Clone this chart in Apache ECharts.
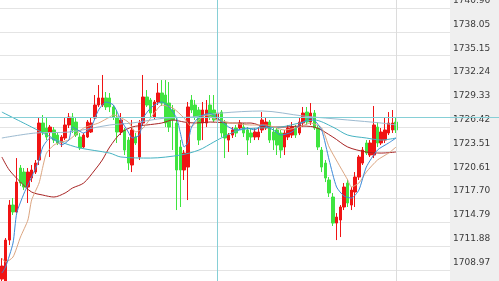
<!DOCTYPE html>
<html><head><meta charset="utf-8">
<script src="https://cdn.jsdelivr.net/npm/echarts@6/dist/echarts.min.js"></script>
<style>html,body{margin:0;padding:0;background:#fff}#c{width:499px;height:281px}</style>
</head><body><div id="c"></div>
<script>
// ---- data ----
const slotCount = 121;
const categories = Array.from({length: slotCount}, (_, i) => 'T' + i);
// [open, close, low, high]
const candles = [
[1707.87,1709.46,1707.14,1710.43],[1707.14,1712.63,1706.52,1712.88],[1712.63,1716.91,1712.02,1717.52],[1716.91,1716.06,1715.69,1717.77],
[1716.06,1719.72,1715.93,1722.65],[1721.43,1719.60,1719.23,1721.80],[1720.94,1719.11,1718.74,1721.43],[1719.11,1720.94,1717.16,1721.43],
[1720.21,1721.19,1719.72,1721.80],[1720.94,1722.04,1720.70,1722.41],[1722.41,1726.93,1721.80,1727.54],[1726.93,1725.83,1725.46,1727.91],
[1726.32,1725.22,1724.85,1727.66],[1725.83,1726.44,1722.78,1726.69],[1726.08,1724.85,1724.49,1726.44],[1725.46,1724.49,1724.24,1725.83],
[1724.49,1725.22,1724.00,1725.46],[1725.10,1726.69,1724.85,1727.54],[1726.69,1727.66,1726.32,1728.15],[1727.66,1726.08,1725.71,1728.15],
[1727.05,1725.46,1725.22,1727.54],[1725.22,1723.88,1723.63,1725.71],[1724.00,1725.46,1723.88,1725.71],[1725.22,1727.05,1725.10,1727.30],
[1725.83,1726.93,1725.71,1727.66],[1727.54,1729.13,1727.30,1730.35],[1729.13,1729.99,1728.89,1731.57],[1729.13,1729.99,1728.89,1732.80],
[1729.99,1728.89,1728.52,1730.72],[1729.99,1728.89,1728.27,1730.60],[1728.89,1727.66,1727.30,1729.13],[1727.54,1725.83,1724.49,1728.52],
[1725.83,1727.30,1725.46,1728.15],[1726.08,1723.63,1723.02,1726.32],[1724.85,1722.04,1721.19,1725.22],[1721.80,1726.08,1720.94,1727.30],
[1725.22,1724.49,1724.24,1725.71],[1722.78,1726.93,1722.41,1727.30],[1726.93,1730.11,1726.69,1732.80],[1730.11,1729.13,1728.89,1730.96],
[1729.74,1728.15,1727.66,1729.99],[1727.66,1729.50,1727.30,1729.74],[1729.50,1730.60,1729.13,1731.82],[1730.60,1729.37,1729.01,1732.18],
[1730.35,1726.93,1726.44,1732.18],[1729.37,1726.44,1725.83,1731.94],[1728.52,1727.30,1723.63,1729.13],[1726.93,1721.19,1716.30,1727.54],
[1724.00,1721.19,1716.67,1724.85],[1721.19,1723.26,1719.97,1723.63],[1721.55,1728.89,1717.52,1729.50],[1729.74,1728.52,1728.15,1730.35],
[1729.13,1727.66,1727.30,1729.74],[1728.52,1724.85,1724.24,1728.89],[1726.93,1728.52,1724.85,1729.50],[1726.93,1728.52,1726.44,1729.74],
[1729.13,1727.66,1727.30,1730.35],[1728.52,1727.30,1727.05,1730.35],[1727.30,1728.15,1726.93,1728.52],[1728.27,1725.71,1725.22,1728.52],
[1726.93,1725.10,1722.65,1727.30],[1724.85,1725.46,1723.39,1725.71],[1725.46,1726.08,1725.10,1726.44],[1726.32,1725.71,1725.22,1726.69],
[1726.32,1726.93,1726.08,1727.30],[1726.44,1725.71,1725.22,1726.93],[1726.08,1724.85,1723.02,1726.44],[1725.71,1725.22,1724.49,1726.32],
[1725.22,1725.83,1724.85,1726.32],[1725.22,1725.83,1724.85,1726.44],[1726.08,1727.30,1725.71,1728.27],[1726.32,1727.05,1726.08,1727.66],
[1727.05,1724.85,1724.49,1727.30],[1725.83,1724.85,1723.63,1726.32],[1726.08,1724.24,1723.02,1726.44],[1725.71,1723.63,1722.65,1726.08],
[1724.00,1725.71,1723.02,1726.08],[1725.22,1726.32,1724.85,1726.69],[1725.46,1726.44,1725.10,1727.05],[1726.32,1725.46,1725.10,1726.69],
[1725.71,1727.05,1725.46,1727.66],[1726.93,1728.15,1726.44,1728.89],[1728.27,1727.05,1726.69,1728.89],[1727.05,1728.15,1726.69,1729.37],
[1728.15,1726.32,1726.08,1728.52],[1726.32,1724.00,1723.63,1726.69],[1723.63,1721.55,1720.94,1724.00],[1722.04,1720.21,1719.72,1722.41],
[1719.97,1718.38,1717.89,1720.33],[1717.89,1714.71,1714.35,1718.38],[1714.71,1715.44,1712.63,1715.93],[1715.08,1716.67,1713.00,1716.91],
[1716.67,1719.11,1716.30,1719.60],[1719.60,1717.16,1716.67,1719.97],[1716.91,1718.74,1716.30,1719.11],[1718.50,1720.33,1716.67,1720.94],
[1720.33,1722.78,1719.97,1723.02],[1722.04,1723.63,1721.80,1724.00],[1724.49,1723.26,1723.02,1724.85],[1723.02,1724.49,1722.78,1724.85],
[1723.02,1726.69,1722.65,1729.01],[1726.44,1724.49,1724.00,1727.05],[1724.49,1725.83,1724.24,1726.32],[1724.85,1726.08,1724.49,1727.66],
[1725.71,1726.93,1725.46,1728.27],[1726.08,1726.93,1725.71,1728.52],[1727.05,1726.08,1725.71,1727.66]
];
// moving averages read as [slot index, value]
const ma5 = [[0,1708.60],[1,1709.34],[3,1712.27],[4,1715.93],[6,1718.38],[8,1720.33],[10,1722.41],[11,1724.00],[13,1725.10],[15,1724.61],[16,1724.24],[18,1724.85],[19,1726.44],[22,1725.71],[24,1726.44],[26,1728.52],[28,1729.50],[30,1729.13],[32,1727.30],[34,1725.83],[35,1725.10],[37,1725.46],[38,1727.54],[40,1728.76],[42,1729.37],[43,1729.50],[45,1728.89],[47,1727.54],[48,1725.71],[49,1724.00],[50,1724.49],[51,1726.44],[53,1727.66],[56,1728.15],[58,1727.54],[61,1726.44],[63,1726.08],[66,1726.32],[68,1726.08],[70,1726.69],[73,1726.08],[75,1725.46],[78,1725.83],[80,1726.69],[83,1727.54],[84,1727.30],[86,1726.08],[88,1722.41],[90,1719.11],[92,1718.01],[94,1717.77],[96,1718.74],[98,1721.55],[101,1723.63],[104,1724.49],[106,1725.10]];
const ma10 = [[0,1710.43],[1,1709.95],[3,1710.56],[5,1713.00],[7,1715.08],[8,1717.52],[10,1719.60],[11,1721.55],[12,1723.26],[14,1724.24],[16,1724.61],[18,1724.85],[22,1726.32],[26,1726.93],[29,1727.66],[30,1727.91],[34,1727.05],[36,1725.83],[38,1726.32],[41,1728.15],[43,1729.13],[46,1728.76],[49,1727.54],[51,1726.44],[52,1726.93],[55,1727.91],[58,1727.30],[62,1726.93],[67,1726.69],[71,1726.69],[76,1726.08],[80,1726.44],[83,1726.93],[86,1726.32],[88,1724.00],[91,1721.55],[93,1719.97],[94,1719.11],[96,1719.60],[98,1720.94],[101,1722.41],[104,1723.26],[106,1724.00]];
const ma20 = [[0,1728.27],[8,1726.44],[16,1724.61],[21,1723.88],[29,1723.26],[32,1722.78],[40,1722.65],[48,1723.02],[53,1723.63],[57,1724.61],[60,1725.34],[64,1726.08],[69,1726.32],[75,1726.44],[80,1726.93],[84,1727.30],[89,1726.44],[93,1725.46],[98,1725.10],[102,1724.85],[106,1725.10]];
const ma30 = [[0,1725.10],[9,1725.71],[18,1725.83],[29,1726.69],[35,1726.93],[44,1727.54],[51,1727.66],[59,1728.15],[70,1728.40],[81,1727.79],[93,1727.30],[102,1726.93],[106,1726.69]];
const ma60 = [[0,1722.78],[2,1721.19],[5,1719.72],[8,1718.50],[11,1718.13],[14,1717.89],[17,1718.38],[19,1718.99],[22,1719.60],[25,1721.19],[27,1722.41],[29,1724.00],[32,1725.71],[35,1726.44],[39,1726.69],[43,1726.93],[46,1727.30],[49,1727.05],[52,1726.93],[56,1727.05],[62,1726.93],[67,1726.93],[71,1726.44],[76,1726.44],[80,1726.56],[84,1726.44],[89,1725.22],[93,1724.00],[98,1723.39],[102,1723.26],[106,1723.39]];
const tickLabels = [1740.96,1738.05,1735.15,1732.24,1729.33,1726.42,1723.51,1720.61,1717.70,1714.79,1711.88,1708.97];
const axisMin = 1707.63, axisMax = 1741.96;
const crosshairIndex = 58, crosshairPrice = 1727.66, lastIndex = 106;

// ---- chart ----
const chart = echarts.init(document.getElementById('c'), null, {renderer: 'canvas'});
const maLine = (data, color, smooth) => ({
  type: 'line', data, xAxisIndex: 0, yAxisIndex: 0, symbol: 'none', smooth,
  lineStyle: {color, width: 1}, silent: true, z: 3
});
chart.setOption({
  animation: false,
  backgroundColor: '#ffffff',
  graphic: [{type: 'rect', left: 450, top: 0, shape: {width: 49, height: 281}, style: {fill: '#efefef'}, z: -1, silent: true}],
  grid: [
    {left: 0, right: 49, top: 0, bottom: 0, containLabel: false, outerBoundsMode: 'none'},
    {left: 0, right: 0, top: 0, bottom: 0, containLabel: false, outerBoundsMode: 'none'}
  ],
  xAxis: [
    {type: 'category', data: categories, gridIndex: 0, show: false, boundaryGap: true},
    {type: 'value', gridIndex: 1, min: 0, max: 1, show: false}
  ],
  yAxis: [
    {type: 'value', gridIndex: 0, position: 'right', min: axisMin, max: axisMax, scale: true,
     axisLine: {show: false},
     axisTick: {show: false, customValues: tickLabels},
     splitLine: {show: true, lineStyle: {color: '#e4e4e4', width: 1}},
     axisLabel: {show: true, customValues: tickLabels, inside: false, margin: 3, align: 'left',
       verticalAlign: 'bottom', padding: [0, 0, 3, 0],
       color: '#3a3a3a', fontFamily: 'DejaVu Sans', fontSize: 9,
       formatter: v => Number(v).toFixed(2)}},
    {type: 'value', gridIndex: 1, min: axisMin, max: axisMax, show: false}
  ],
  series: [
    {type: 'candlestick', data: candles, xAxisIndex: 0, yAxisIndex: 0, barWidth: 3, z: 2,
     itemStyle: {color: '#f01414', color0: '#3fe43f', borderColor: '#f01414', borderColor0: '#3fe43f', borderWidth: 1},
     markLine: {symbol: 'none', silent: true, animation: false, label: {show: false},
       data: [
         {xAxis: crosshairIndex, lineStyle: {color: '#86cfd6', width: 1, type: 'solid'}},
         {xAxis: lastIndex, lineStyle: {color: '#dcdcdc', width: 1, type: 'solid'}}
       ]}},
    maLine(ma60, '#a82424', 0.3),
    maLine(ma30, '#9cbad0', 0.3),
    maLine(ma20, '#45b3c2', 0.3),
    maLine(ma10, '#dca580', 0.2),
    maLine(ma5, '#3b8ad9', 0.2),
    {type: 'line', xAxisIndex: 1, yAxisIndex: 1, data: [], silent: true,
     markLine: {symbol: 'none', silent: true, animation: false, label: {show: false},
       lineStyle: {color: '#86cfd6', width: 1, type: 'solid'},
       data: [{yAxis: crosshairPrice}]}}
  ]
});
</script>
</body></html>
